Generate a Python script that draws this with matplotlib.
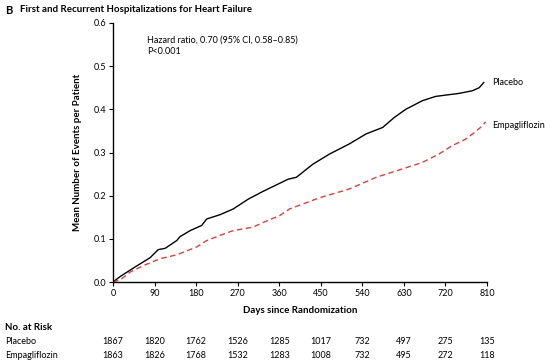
import matplotlib
matplotlib.use("Agg")
import matplotlib.pyplot as plt

plt.rcParams['font.family'] = ['Lato', 'DejaVu Sans']

# mean cumulative number of events per patient
placebo_days = [0, 16, 48, 80, 98, 113, 138, 145, 167, 192, 203, 232, 260, 293,
                325, 354, 379, 397, 433, 469, 512, 548, 584, 609, 634, 670,
                699, 750, 778, 793, 803]
placebo_vals = [0, 0.013, 0.035, 0.056, 0.075, 0.078, 0.096, 0.105, 0.119, 0.131,
                0.146, 0.156, 0.169, 0.192, 0.21, 0.225, 0.238, 0.2425, 0.273,
                0.2965, 0.32, 0.343, 0.358, 0.381, 0.40, 0.42, 0.43, 0.437,
                0.443, 0.45, 0.462]

empa_days = [0, 16, 37, 66, 102, 138, 181, 203, 232, 260, 303, 332, 361, 383,
             447, 512, 570, 627, 670, 706, 735, 764, 786, 800, 807]
empa_vals = [0, 0.005, 0.023, 0.038, 0.054, 0.063, 0.081, 0.096, 0.108, 0.119,
             0.127, 0.141, 0.154, 0.1695, 0.195, 0.2155, 0.2425, 0.262, 0.277,
             0.2965, 0.316, 0.331, 0.349, 0.362, 0.371]

xticks = [0, 90, 180, 270, 360, 450, 540, 630, 720, 810]
yticks = [0.0, 0.1, 0.2, 0.3, 0.4, 0.5, 0.6]
risk_placebo = [1867, 1820, 1762, 1526, 1285, 1017, 732, 497, 275, 135]
risk_empa = [1863, 1826, 1768, 1532, 1283, 1008, 732, 495, 272, 118]

fig = plt.figure(figsize=(5.52, 3.61), dpi=100)
ax = fig.add_axes([113/552, 1 - 282/361, (487 - 113)/552, (282 - 23)/361])

ax.plot(placebo_days, placebo_vals, color="black", lw=1.0)
ax.plot(empa_days, empa_vals, color="#d9423a", lw=1.0, ls=(0, (4, 2.5)))

ax.set_xlim(0, 810)
ax.set_ylim(0, 0.6)
ax.set_xticks(xticks)
ax.set_yticks(yticks)
ax.set_yticklabels(["{:.1f}".format(v) for v in yticks])
ax.tick_params(labelsize=6.5, length=3, width=0.8, pad=2)
for s in ["top", "right"]:
    ax.spines[s].set_visible(False)
for s in ["left", "bottom"]:
    ax.spines[s].set_linewidth(1.0)

ax.set_xlabel("Days since Randomization", fontsize=7, fontweight="bold", labelpad=6)
ax.set_ylabel("Mean Number of Events per Patient", fontsize=7, fontweight="bold", labelpad=8)

ax.text(74, 0.561, "Hazard ratio, 0.70 (95% CI, 0.58\u20130.85)", fontsize=6.5, va="center")
ax.text(74, 0.533, "P<0.001", fontsize=6.5, va="center")

ax.text(1.015, 0.462, "Placebo", transform=ax.get_yaxis_transform(), fontsize=6.5, va="center")
ax.text(1.015, 0.362, "Empagliflozin", transform=ax.get_yaxis_transform(), fontsize=6.5, va="center")

fig.text(5/552, 1 - 10/361, "B", fontsize=8, fontweight="bold", va="center")
fig.text(20/552, 1 - 10/361, "First and Recurrent Hospitalizations for Heart Failure",
         fontsize=7, fontweight="bold", va="center")

# numbers at risk
fig.text(5/552, 1 - 327/361, "No. at Risk", fontsize=7, fontweight="bold", va="center")
fig.text(5/552, 1 - 342/361, "Placebo", fontsize=6.5, va="center")
fig.text(5/552, 1 - 356/361, "Empagliflozin", fontsize=6.5, va="center")
for d, p, e in zip(xticks, risk_placebo, risk_empa):
    xf = ax.transData.transform((d, 0))[0] / fig.bbox.width
    fig.text(xf, 1 - 342/361, str(p), fontsize=6.5, ha="center", va="center")
    fig.text(xf, 1 - 356/361, str(e), fontsize=6.5, ha="center", va="center")

fig.savefig("out.png", dpi=100)
